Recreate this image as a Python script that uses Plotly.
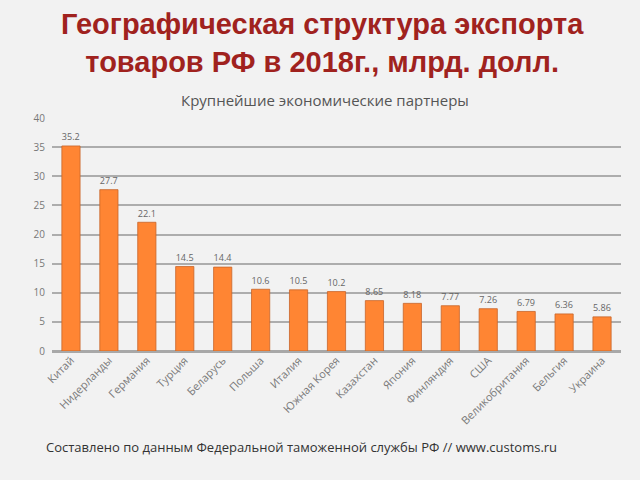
import plotly.graph_objects as go

countries = ["Китай", "Нидерланды", "Германия", "Турция", "Беларусь", "Польша", "Италия",
             "Южная Корея", "Казахстан", "Япония", "Финляндия", "США", "Великобритания",
             "Бельгия", "Украина"]
values = [35.2, 27.7, 22.1, 14.5, 14.4, 10.6, 10.5, 10.2, 8.65, 8.18, 7.77, 7.26, 6.79, 6.36, 5.86]
labels = ["35.2", "27.7", "22.1", "14.5", "14.4", "10.6", "10.5", "10.2", "8.65", "8.18",
          "7.77", "7.26", "6.79", "6.36", "5.86"]
yticks = [0, 5, 10, 15, 20, 25, 30, 35, 40]

fig = go.Figure()
fig.add_trace(go.Bar(
    x=countries, y=values, text=labels, textposition="outside",
    textfont=dict(family="Open Sans, DejaVu Sans", size=10, color="#666666"),
    marker=dict(color="#FF8533", line=dict(color="#C8652A", width=0.8)),
    cliponaxis=False,
))

L, R, T, B = 52, 19, 118, 129
plot_h = 480 - T - B
plot_w = 640 - L - R
def py(pix):
    return (480 - B - pix) / plot_h
def px(pix):
    return (pix - L) / plot_w

fig.update_layout(
    width=640, height=480,
    paper_bgcolor="#F2F2F2", plot_bgcolor="#F2F2F2",
    margin=dict(l=L, r=R, t=T, b=B),
    bargap=0.52,
    showlegend=False,
    xaxis=dict(tickangle=-45, tickfont=dict(family="Open Sans, DejaVu Sans", size=11, color="#7A7A7A"),
               showgrid=False, showline=False, ticks=""),
    yaxis=dict(range=[0, 40], tickvals=yticks, ticktext=[str(v) for v in yticks],
               tickfont=dict(family="Open Sans, DejaVu Sans", size=10, color="#777777"),
               showgrid=True, gridcolor="#ADADAD", gridwidth=1.5,
               zeroline=True, zerolinecolor="#A8A8A8", zerolinewidth=3,
               ticks="", ticklabelstandoff=6),
    annotations=[
        dict(text="<b>Географическая структура экспорта<br>товаров РФ в 2018г., млрд. долл.</b>",
             x=px(322), y=py(43), xref="paper", yref="paper", xanchor="center", yanchor="middle",
             showarrow=False,
             font=dict(family="Liberation Sans, Arial", size=29, color="#A0221E")),
        dict(text="Крупнейшие экономические партнеры", x=px(325), y=py(100), xref="paper", yref="paper",
             xanchor="center", yanchor="middle",
             showarrow=False, font=dict(family="Open Sans, DejaVu Sans", size=15, color="#555555")),
        dict(text="Составлено по данным Федеральной таможенной службы РФ // www.customs.ru",
             x=px(44), y=py(447), xref="paper", yref="paper", xanchor="left", yanchor="middle",
             showarrow=False, font=dict(family="Open Sans, DejaVu Sans", size=13, color="#333333")),
    ],
)

fig.write_html("out.html", config={"displayModeBar": False},
               post_script="document.body.style.margin='0';document.body.style.background='#F2F2F2';")
